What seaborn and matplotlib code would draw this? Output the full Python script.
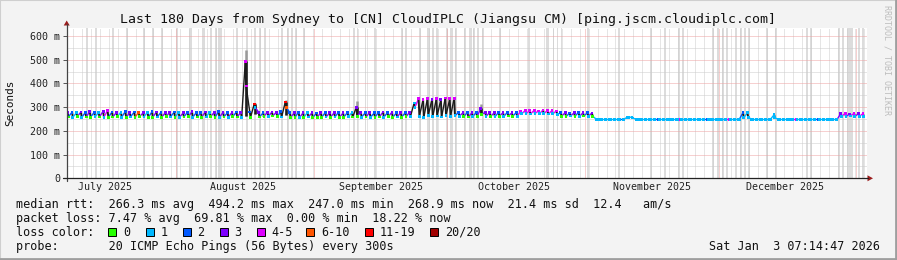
import datetime as dt
import numpy as np
import pandas as pd
import matplotlib
matplotlib.use("Agg")
import matplotlib.pyplot as plt
import seaborn as sns
from matplotlib.collections import LineCollection
from matplotlib.patches import Rectangle, Polygon
from matplotlib.lines import Line2D

# ---------------- data ----------------
title = "Last 180 Days from Sydney to [CN] CloudIPLC (Jiangsu CM) [ping.jscm.cloudiplc.com]"
start = dt.datetime(2025, 7, 7, 7, 14, 47)
month_starts = [dt.datetime(2025, 8, 1), dt.datetime(2025, 9, 1), dt.datetime(2025, 10, 1),
                dt.datetime(2025, 11, 1), dt.datetime(2025, 12, 1), dt.datetime(2026, 1, 1)]
month_label_dates = [dt.datetime(2025, 7, 16), dt.datetime(2025, 8, 16), dt.datetime(2025, 9, 16),
                     dt.datetime(2025, 10, 16), dt.datetime(2025, 11, 16), dt.datetime(2025, 12, 16)]
month_labels = ["July 2025", "August 2025", "September 2025", "October 2025",
                "November 2025", "December 2025"]
y_ticks = [0, 100, 200, 300, 400, 500, 600]
y_tick_labels = ["0", "100 m", "200 m", "300 m", "400 m", "500 m", "600 m"]

# daily median rtt (ms) at daily peak and daily trough
day_hi = [
    277, 279, 276, 280, 278, 281, 279, 277, 283, 286,
    280, 278, 279, 282, 277, 280, 278, 276, 279, 281,
    280, 278, 277, 279, 280, 278, 276, 279, 281, 278,
    277, 280, 279, 278, 281, 279, 277, 278, 280, 279,
    494, 280, 313, 279, 276, 278, 280, 279, 281, 322,
    278, 276, 279, 277, 278, 276, 275, 277, 278, 276,
    277, 279, 276, 278, 277, 300, 279, 277, 278, 276,
    278, 280, 277, 279, 276, 278, 277, 279, 318, 336,
    332, 338, 334, 337, 333, 339, 335, 338, 278, 277,
    279, 276, 278, 296, 278, 277, 276, 278, 277, 279,
    276, 278, 284, 286, 285, 287, 284, 288, 286, 285,
    284, 276, 277, 275, 276, 278, 277, 276, 275, 249,
    249, 249, 249, 249, 249, 249, 258, 259, 249, 249,
    249, 249, 249, 249, 249, 249, 249, 249, 249, 249,
    249, 249, 249, 249, 249, 249, 249, 249, 249, 249,
    249, 249, 277, 276, 249, 249, 249, 249, 249, 268,
    249, 249, 249, 249, 249, 249, 249, 249, 249, 249,
    249, 249, 249, 249, 272, 273, 271, 274, 272, 273,
]
day_lo = [
    259, 258, 260, 257, 259, 258, 260, 259, 258, 257,
    259, 260, 258, 257, 259, 258, 260, 259, 257, 258,
    259, 258, 260, 259, 258, 257, 259, 260, 258, 259,
    258, 259, 260, 258, 257, 259, 258, 260, 259, 258,
    389, 258, 300, 259, 262, 261, 263, 260, 259, 300,
    257, 258, 255, 257, 259, 256, 258, 257, 259, 258,
    259, 257, 258, 260, 259, 262, 258, 259, 257, 258,
    259, 258, 260, 257, 259, 258, 260, 262, 300, 262,
    258, 265, 260, 263, 259, 266, 261, 264, 262, 260,
    259, 261, 260, 270, 262, 261, 260, 262, 261, 263,
    262, 261, 272, 273, 271, 274, 272, 273, 271, 272,
    270, 262, 261, 263, 262, 260, 263, 262, 262, 249,
    249, 249, 249, 249, 249, 249, 255, 254, 249, 249,
    249, 249, 249, 249, 249, 249, 249, 249, 249, 249,
    249, 249, 249, 249, 249, 249, 249, 249, 249, 249,
    249, 249, 256, 257, 249, 249, 249, 249, 249, 255,
    249, 249, 249, 249, 249, 249, 249, 249, 249, 249,
    249, 249, 249, 249, 262, 261, 263, 262, 261, 262,
]
# loss colour class per sample (index into loss_names)
loss_hi = ("3213232134" "2312325312" "3233213232" "2313232323" "4263233326" "2323132323"
           "3232133232" "2323232314" "4434344423" "2323333232" "3244444444" "4232323231"
           "1111121111" "1112111141" "1111211114" "1121111111" "1111411112" "1111343434")
loss_lo = ("0101001010" "0010100100" "1001010010" "0100101001" "4010010015" "0010100010"
           "1001001010" "0100100111" "1111111110" "0100101010" "0111111111" "1001010101"
           "1111111111" "1111111111" "1111111111" "1111111111" "1111111111" "1111111111")

# smoke spikes (day index, bottom, top in ms)
spike_days = [40, 42, 49, 65, 93]
spike_bottoms = [262, 270, 268, 265, 265]
spike_tops = [541, 318, 330, 326, 312]

# days with missing/lost probes (full-height grey columns)
gap_days = [4.6, 6.6, 10.4, 13.6, 17.4, 19.4, 21.4, 24.8, 32.5, 33.6, 38.3, 40.6, 42.4,
            43.5, 44.6, 48.4, 49.8, 50.7, 51.6, 53.4, 64.7, 65.5, 67.3, 69.4, 75.5, 76.4,
            79.5, 82.4, 83.3, 85.6, 87.6, 89.6, 91.7, 92.6, 93.7, 97.5, 104.0, 109.6, 110.5,
            111.4, 117.3, 124.3, 131.5, 134.6, 137.8, 138.7, 145.4, 146.6, 147.7, 148.6,
            150.6, 151.7, 152.6, 153.5, 157.6, 159.6, 166.6, 167.5, 173.8, 174.7, 175.8,
            178.3, 179.2]
gap_days_wide = [27.8, 30.7, 34.5, 81.5, 86.7, 90.8, 108.3, 176.5]

loss_names = ["0", "1", "2", "3", "4-5", "6-10", "11-19", "20/20"]
loss_colors = ["#26ff00", "#00b8ff", "#0059ff", "#7e00ff", "#dd00ff", "#ff5500", "#ff0000", "#a10000"]

legend_line1 = "median rtt:  266.3 ms avg  494.2 ms max  247.0 ms min  268.9 ms now  21.4 ms sd  12.4   am/s"
legend_line2 = "packet loss: 7.47 % avg  69.81 % max  0.00 % min  18.22 % now"
legend_line3 = "loss color:"
legend_line4 = "probe:       20 ICMP Echo Pings (56 Bytes) every 300s"
stamp = "Sat Jan  3 07:14:47 2026"
watermark = "RRDTOOL / TOBI OETIKER"

# ---------------- layout ----------------
W, H, DPI = 897, 260, 100
X0, X1, YB, YT = 66.7, 866.5, 178.3, 28.0
NDAYS = 180
YMAX = 634

sns.set_style("white")
plt.rcParams["font.family"] = ["DejaVu Sans Mono"]

fig = plt.figure(figsize=(W / DPI, H / DPI), dpi=DPI, facecolor="#f3f3f3")


def fx(x):
    return x / W


def fy(y):
    return 1 - y / H


ax = fig.add_axes([fx(X0), fy(YB), (X1 - X0) / W, (YB - YT) / H])
ax.set_facecolor("white")
ax.set_xlim(0, NDAYS)
ax.set_ylim(0, YMAX)
for s in ax.spines.values():
    s.set_visible(False)


def day_of(d):
    return (d - start).total_seconds() / 86400.0


# grey gap columns
for d in gap_days:
    ax.axvspan(d - 0.17, d + 0.17, color="#dcdcdc", lw=0, zorder=1)
for d in gap_days_wide:
    ax.axvspan(d - 0.35, d + 0.35, color="#dcdcdc", lw=0, zorder=1)

# grid
dot = (0, (1, 1))
for v in np.arange(1.5, NDAYS, 2):
    ax.axvline(v, color="#cccccc", lw=0.72, ls=dot, zorder=1.5)
for h in range(50, YMAX, 100):
    ax.axhline(h, color="#cccccc", lw=0.72, ls=dot, zorder=1.5)
for h in y_ticks[1:]:
    ax.axhline(h, color="#eea3a3", lw=0.72, ls=dot, zorder=1.6)
for m in month_starts:
    ax.axvline(day_of(m), color="#eea3a3", lw=0.72, ls=dot, zorder=1.6)

# samples
n = len(day_hi)
days = np.arange(n)
t_hi = days + 0.2
t_lo = days + 0.38
hi = np.array(day_hi, dtype=float)
lo = np.array(day_lo, dtype=float)
c_hi = [int(c) for c in loss_hi]
c_lo = [int(c) for c in loss_lo]

# light smoke below the daily troughs
osc = hi - lo > 6
ax.vlines((t_hi + t_lo)[osc] / 2, lo[osc] - 5, lo[osc], color="#c4c4c4", lw=1.6, zorder=2)

# smoke spikes
for d, b, tp in zip(spike_days, spike_bottoms, spike_tops):
    ax.vlines(d + 0.29, b, tp, color="#9a9a9a", lw=1.8, zorder=2)
    ax.vlines(d + 0.29, b, max(day_hi[d], day_lo[d]), color="#1c1c1c", lw=1.8, zorder=2.2)

# median line coloured by loss
segs, cols, widths = [], [], []
for i in range(n):
    segs.append([(t_hi[i], hi[i]), (t_lo[i], lo[i])])
    dark = hi[i] - lo[i] > 6
    cols.append("#1c1c1c" if dark else loss_colors[c_lo[i]])
    widths.append(1.4 if dark else 1.1)
    if i + 1 < n:
        segs.append([(t_lo[i], lo[i]), (t_hi[i + 1], hi[i + 1])])
        cols.append(loss_colors[c_hi[i + 1]] if abs(hi[i + 1] - lo[i]) < 40 else "#1c1c1c")
        widths.append(1.0)
ax.add_collection(LineCollection(segs, colors=cols, linewidths=widths, zorder=3))

df = pd.DataFrame({
    "t": np.concatenate([t_hi, t_lo]),
    "rtt": np.concatenate([hi, lo]),
    "loss": [loss_names[c] for c in c_hi] + [loss_names[c] for c in c_lo],
})
sns.scatterplot(data=df, x="t", y="rtt", hue="loss", palette=dict(zip(loss_names, loss_colors)),
                marker="s", s=4, linewidth=0, legend=False, ax=ax, zorder=4)
ax.set_xlim(0, NDAYS)
ax.set_ylim(0, YMAX)
ax.set_xlabel("")
ax.set_ylabel("")

# ticks
ax.set_yticks(y_ticks)
ax.set_yticklabels(y_tick_labels)
ax.set_xticks([day_of(d) for d in month_label_dates])
ax.set_xticklabels(month_labels)
ax.tick_params(axis="y", length=3, width=0.7, color="#555555", pad=1.8, labelsize=7.2,
               labelcolor="#222222", left=True)
ax.tick_params(axis="x", length=0, pad=3.0, labelsize=7.2, labelcolor="#222222")

# axes lines with arrows
fig.add_artist(Line2D([fx(X0), fx(X0)], [fy(YB + 3), fy(24)], transform=fig.transFigure,
                      color="#444444", lw=0.9))
fig.add_artist(Line2D([fx(X0 - 4), fx(868)], [fy(YB), fy(YB)], transform=fig.transFigure,
                      color="#222222", lw=0.9))
fig.add_artist(Polygon([(fx(X0 - 3), fy(25.5)), (fx(X0 + 3), fy(25.5)), (fx(X0), fy(20.5))],
                       closed=True, transform=fig.transFigure, color="#9b1c1c", lw=0))
fig.add_artist(Polygon([(fx(867.5), fy(YB - 3)), (fx(867.5), fy(YB + 3)), (fx(873), fy(YB))],
                       closed=True, transform=fig.transFigure, color="#9b1c1c", lw=0))

# texts
fig.text(fx(448), fy(19), title, ha="center", va="center", fontsize=9.55, color="#111111")
fig.text(fx(10), fy(103), "Seconds", ha="center", va="center", rotation=90, fontsize=7.9,
         color="#111111")
fig.text(fx(887), fy(60), watermark, ha="center", va="center", rotation=270, fontsize=6,
         color="#bdbdbd")

lsize = 8.49
fig.text(fx(16), fy(204.3), legend_line1, ha="left", va="center", fontsize=lsize, color="#111111")
fig.text(fx(16), fy(218.3), legend_line2, ha="left", va="center", fontsize=lsize, color="#111111")
fig.text(fx(16), fy(232.3), legend_line3, ha="left", va="center", fontsize=lsize, color="#111111")
fig.text(fx(16), fy(246.3), legend_line4, ha="left", va="center", fontsize=lsize, color="#111111")
fig.text(fx(880), fy(246.3), stamp, ha="right", va="center", fontsize=lsize, color="#111111")

box_x = [108, 145.5, 182.5, 219.5, 256.5, 306, 365, 430]
for bx, name, col in zip(box_x, loss_names, loss_colors):
    fig.add_artist(Rectangle((fx(bx), fy(236.3)), 8 / W, 8 / H, transform=fig.transFigure,
                             facecolor=col, edgecolor="#000000", lw=0.7))
    fig.text(fx(bx + 15), fy(232.3), name, ha="left", va="center", fontsize=lsize, color="#111111")

# image border
fig.add_artist(Rectangle((0, 0), 1, 1, transform=fig.transFigure, fill=False,
                         edgecolor="#cfcfcf", lw=1.5))
fig.add_artist(Line2D([0, 1], [fy(258.8), fy(258.8)], transform=fig.transFigure, color="#9e9e9e", lw=2))
fig.add_artist(Line2D([fx(895.8), fx(895.8)], [0, 1], transform=fig.transFigure, color="#9e9e9e", lw=2))

fig.savefig("out.png", dpi=DPI, facecolor=fig.get_facecolor())
